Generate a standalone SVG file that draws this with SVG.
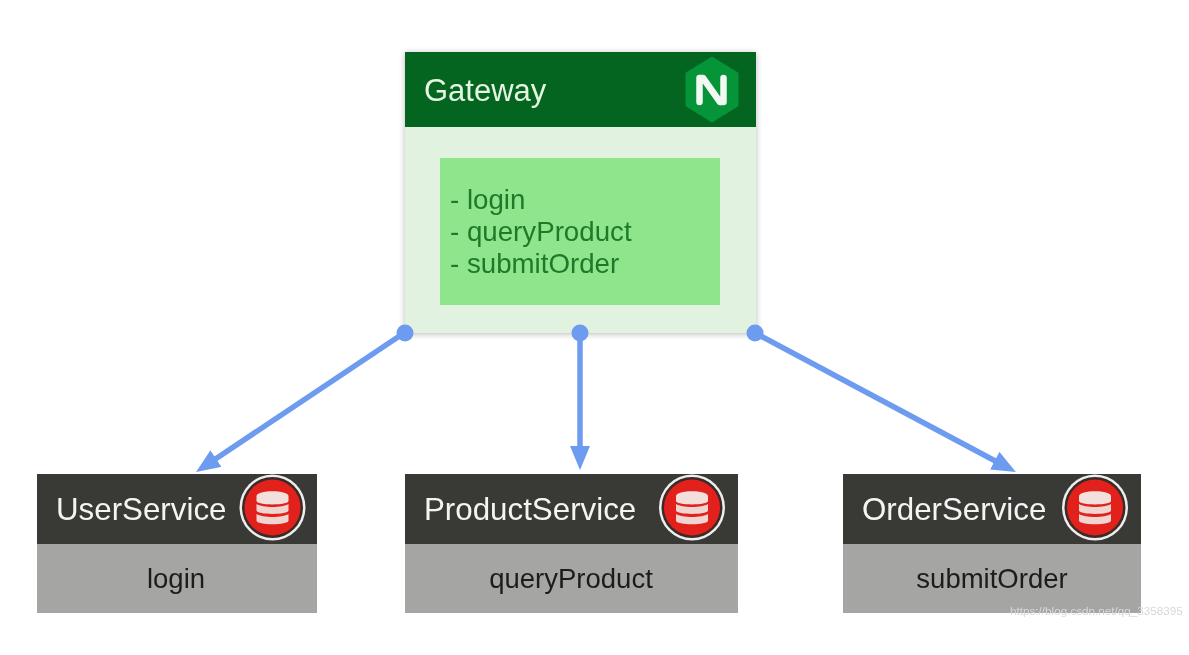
<svg xmlns="http://www.w3.org/2000/svg" width="1189" height="655" viewBox="0 0 1189 655">
<defs>
<filter id="sh" x="-10%" y="-10%" width="120%" height="120%"><feDropShadow dx="0" dy="1" stdDeviation="3" flood-color="#000" flood-opacity="0.28"/></filter>
<filter id="soft" x="-5%" y="-5%" width="110%" height="110%"><feGaussianBlur stdDeviation="0.5"/></filter>
<marker id="arrow" markerUnits="userSpaceOnUse" markerWidth="26" markerHeight="22" refX="6" refY="10" orient="auto"><path d="M0 0L24 10L0 20Z" fill="#6d9bef"/></marker>
<g id="db">
<circle r="33" fill="#eeeeee"/>
<circle r="30.5" fill="#3a2a28"/>
<circle r="28" fill="#e3211c"/>
<path d="M-16 -11.5C-16 -18 16 -18 16 -11.5V-6.500C16 -2 -16 -2 -16 -6.500Z" fill="#f3e0dc"/>
<path d="M-16 -3.500C-10 0.500 10 0.500 16 -3.500V3C16 7.500 -16 7.500 -16 3Z" fill="#f0d4d0"/>
<path d="M-16 6.500C-10 10.500 10 10.500 16 6.500V13C16 18 -16 18 -16 13Z" fill="#f0d4d0"/>
</g>
</defs>
<style>
text{font-family:"Liberation Sans",Arial,sans-serif}
.hdr{fill:#f4f4f2;font-size:31.3px}
.body{fill:#1d1d1d;font-size:27.5px;text-anchor:middle}
.list{fill:#1f7a2c;font-size:27.7px}
.dark{fill:#393936}
.grey{fill:#a5a5a3}
.conn{stroke:#6d9bef;stroke-width:5.5;fill:none;marker-end:url(#arrow)}
.dot{fill:#6d9bef}
</style>
<rect width="1189" height="655" fill="#fff"/>
<g id="gateway">
<rect x="405" y="52" width="351" height="281" fill="#e1f2e0" filter="url(#sh)"/>
<rect x="405" y="52" width="351" height="75" fill="#03651f"/>
<text x="424" y="101" font-size="31" fill="#e6f5e2" filter="url(#soft)">Gateway</text>
<path d="M712 57L738 73V106L712 122L686 106V73Z" fill="#069438" stroke="#069438" stroke-width="1" stroke-linejoin="round"/>
<path d="M699.500 102V78H703L720 102H723.500V78" fill="none" stroke="#f2f8f2" stroke-width="6.500" stroke-linejoin="round" stroke-linecap="round"/>
<rect x="440" y="158" width="280" height="147" fill="#8ee58c"/>
<g class="list" filter="url(#soft)">
<text x="450" y="209">- login</text>
<text x="450" y="241">- queryProduct</text>
<text x="450" y="273">- submitOrder</text>
</g>
</g>
<g id="connectors">
<line class="conn" x1="404" y1="333" x2="211" y2="462"/>
<line class="conn" x1="580" y1="333" x2="580" y2="452"/>
<line class="conn" x1="755" y1="333" x2="1000" y2="463.500"/>
<circle class="dot" cx="405" cy="333" r="8.500"/>
<circle class="dot" cx="580" cy="333" r="8.500"/>
<circle class="dot" cx="755" cy="333" r="8.500"/>
</g>
<g id="user-service">
<rect class="grey" x="37" y="544" width="280" height="69"/>
<rect class="dark" x="37" y="474" width="280" height="70"/>
<text class="hdr" x="56" y="520" filter="url(#soft)">UserService</text>
<use href="#db" x="272.500" y="507.500"/>
<text class="body" x="176" y="588" filter="url(#soft)">login</text>
</g>
<g id="product-service">
<rect class="grey" x="405" y="544" width="333" height="69"/>
<rect class="dark" x="405" y="474" width="333" height="70"/>
<text class="hdr" x="424" y="520" filter="url(#soft)">ProductService</text>
<use href="#db" x="692" y="507.500"/>
<text class="body" x="571" y="588" filter="url(#soft)">queryProduct</text>
</g>
<g id="order-service">
<rect class="grey" x="843" y="544" width="298" height="69"/>
<rect class="dark" x="843" y="474" width="298" height="70"/>
<text class="hdr" x="862" y="520" filter="url(#soft)">OrderService</text>
<use href="#db" x="1095" y="507.500"/>
<text class="body" x="992" y="588" filter="url(#soft)">submitOrder</text>
</g>
<text x="1010" y="615" font-size="11.700" fill="#d8d8d8" filter="url(#soft)">https://blog.csdn.net/qq_3358395</text>
</svg>
